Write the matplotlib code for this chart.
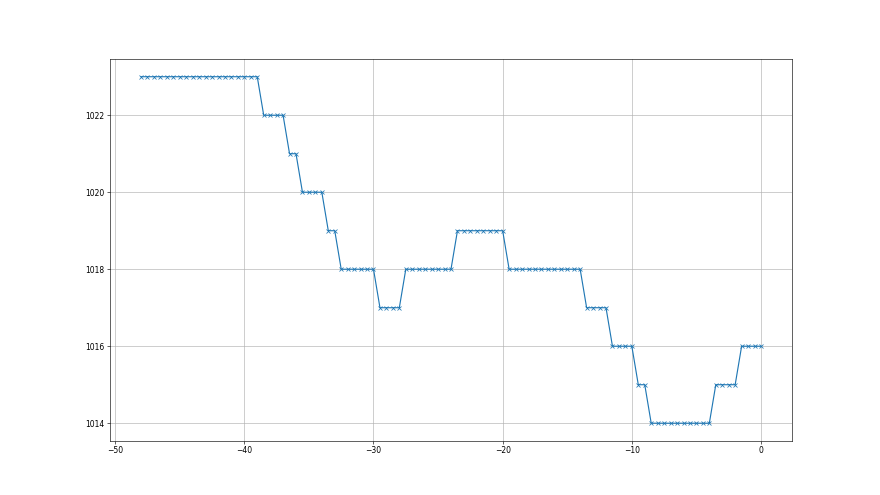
import numpy as np
import matplotlib
matplotlib.use("Agg")
import matplotlib.pyplot as plt

# time offsets (hours before now), one reading every half hour
hours = np.arange(-48, 0.5, 0.5)

# pressure readings
pressure = (
    [1023] * 19 + [1022] * 4 + [1021] * 2 + [1020] * 4 + [1019] * 2
    + [1018] * 6 + [1017] * 4 + [1018] * 8 + [1019] * 8 + [1018] * 12
    + [1017] * 4 + [1016] * 4 + [1015] * 2 + [1014] * 10 + [1015] * 4
    + [1016] * 4
)

fig, ax = plt.subplots(figsize=(16, 9), dpi=55)
ax.plot(hours, pressure, marker="x")
ax.grid(True)

fig.savefig("out.png", dpi=55)
